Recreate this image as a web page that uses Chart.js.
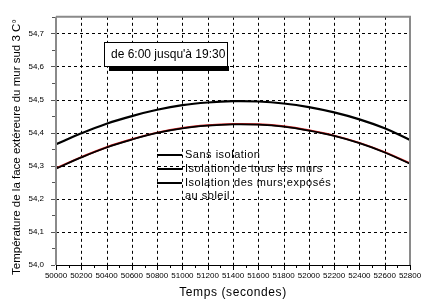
<!DOCTYPE html>
<html><head><meta charset="utf-8">
<script src="https://cdn.jsdelivr.net/npm/chart.js@4"></script>
<style>html,body{margin:0;padding:0;background:#fff}#wrap{width:428px;height:304px}</style>
</head><body><div id="wrap"><canvas id="c" width="428" height="304"></canvas></div>
<script>
const times = [50000,50200,50400,50600,50800,51000,51200,51400,51600,51800,52000,52200,52400,52600,52800];
const sansIsolation = [54.365,54.398,54.427,54.450,54.469,54.483,54.491,54.495,54.494,54.488,54.477,54.461,54.440,54.413,54.378];
const isolationTous = [54.291,54.325,54.355,54.379,54.399,54.413,54.421,54.425,54.424,54.418,54.406,54.390,54.368,54.340,54.306];
const isolationExposes = [54.292,54.326,54.356,54.380,54.400,54.414,54.422,54.426,54.425,54.419,54.407,54.391,54.369,54.341,54.307];
const yTicks = [54.0,54.1,54.2,54.3,54.4,54.5,54.6,54.7];
const legendLabels = ["Sans isolation","Isolation de tous les murs","Isolation des murs exposés","au soleil"];
const annotationText = "de 6:00 jusqu'à 19:30";
const xTitle = "Temps (secondes)";
const yTitle = "Température de la face extéreure du mur sud 3 C°";

const pts = (arr) => times.map((t,i)=>({x:t,y:arr[i]}));

const gridPlugin = {
  id:'gridPlugin',
  beforeDatasetsDraw(chart){
    const ctx = chart.ctx, ca = chart.chartArea, xs = chart.scales.x, ys = chart.scales.y;
    ctx.save();
    ctx.strokeStyle = '#000'; ctx.lineWidth = 1; ctx.setLineDash([3,3]);
    for (const v of yTicks) {
      if (v === 54.0) continue;
      const py = Math.round(ys.getPixelForValue(v)) + 0.5;
      ctx.beginPath(); ctx.moveTo(ca.left, py); ctx.lineTo(ca.right, py); ctx.stroke();
    }
    for (const t of times) {
      if (t === 50000 || t === 52800) continue;
      const px = Math.round(xs.getPixelForValue(t)) + 0.5;
      ctx.beginPath(); ctx.moveTo(px, ca.top); ctx.lineTo(px, ca.bottom); ctx.stroke();
    }
    ctx.restore();
  }
};

const extras = {
  id:'extras',
  afterDraw(chart){
    const ctx = chart.ctx, ca = chart.chartArea, xs = chart.scales.x, ys = chart.scales.y;
    ctx.save();
    ctx.strokeStyle = '#8a8a8a'; ctx.lineWidth = 2;
    ctx.beginPath(); ctx.moveTo(ca.left, ca.top); ctx.lineTo(ca.right, ca.top); ctx.lineTo(ca.right, ca.bottom); ctx.stroke();
    ctx.beginPath(); ctx.moveTo(ca.left, ca.top); ctx.lineTo(ca.left, ca.bottom); ctx.stroke();
    ctx.strokeStyle = '#000'; ctx.lineWidth = 1;
    ctx.beginPath(); ctx.moveTo(ca.left, ca.bottom+0.5); ctx.lineTo(ca.right, ca.bottom+0.5); ctx.stroke();
    for (let t = 50000; t <= 52800; t += 100) {
      const px = Math.round(xs.getPixelForValue(t)) + 0.5;
      const len = (t % 200 === 0) ? 5 : 3;
      ctx.beginPath(); ctx.moveTo(px, ca.bottom); ctx.lineTo(px, ca.bottom + len); ctx.stroke();
    }
    ctx.strokeStyle = '#555';
    for (let v = 0; v <= 15; v++) {
      const py = Math.round(ys.getPixelForValue(54 + v*0.05)) + 0.5;
      const len = (v % 2 === 0) ? 4 : 3;
      ctx.beginPath(); ctx.moveTo(ca.left - 1 - len, py); ctx.lineTo(ca.left - 1, py); ctx.stroke();
    }
    // annotation box
    ctx.fillStyle = '#000';
    ctx.fillRect(109, 66, 120, 5);
    ctx.fillStyle = '#fff';
    ctx.fillRect(104.5, 42.5, 123, 24);
    ctx.strokeStyle = '#000'; ctx.lineWidth = 1;
    ctx.strokeRect(104.5, 42.5, 123, 24);
    ctx.fillStyle = '#000';
    ctx.font = '12px "Liberation Sans", Arial, sans-serif';
    ctx.textBaseline = 'middle'; ctx.textAlign = 'left';
    ctx.fillText(annotationText, 111, 55);
    // legend
    ctx.font = '11px "Liberation Sans", Arial, sans-serif';
    try { ctx.letterSpacing = '0.5px'; } catch(e) {}
    const ly = [155, 169, 183];
    ctx.lineWidth = 2;
    for (let i = 0; i < 3; i++) {
      ctx.strokeStyle = '#000';
      ctx.beginPath(); ctx.moveTo(157, ly[i]); ctx.lineTo(182, ly[i]); ctx.stroke();
      ctx.fillText(legendLabels[i], 185, ly[i]);
    }
    ctx.fillText(legendLabels[3], 185, 196);
    // titles
    ctx.font = '12px "Liberation Sans", Arial, sans-serif';
    try { ctx.letterSpacing = '0.6px'; } catch(e) {}
    ctx.textAlign = 'center';
    ctx.fillText(xTitle, 233, 293);
    ctx.save();
    ctx.translate(17, 147);
    ctx.rotate(-Math.PI/2);
    try { ctx.letterSpacing = '0px'; } catch(e) {}
    ctx.font = '11.5px "Liberation Sans", Arial, sans-serif';
    ctx.fillText(yTitle, 0, 0);
    ctx.restore();
    ctx.restore();
  }
};

new Chart(document.getElementById('c'), {
  type:'line',
  data:{
    datasets:[
      {label:legendLabels[0], data:pts(sansIsolation), borderColor:'#000', borderWidth:2.2, pointRadius:0, tension:0.4, order:1},
      {label:legendLabels[2], data:pts(isolationExposes), borderColor:'#d02020', borderWidth:2, pointRadius:0, tension:0.4, order:3},
      {label:legendLabels[1], data:pts(isolationTous), borderColor:'#000', borderWidth:1.8, pointRadius:0, tension:0.4, order:2}
    ]
  },
  plugins:[gridPlugin, extras],
  options:{
    responsive:false, animation:false, devicePixelRatio:1,
    layout:{padding:{left:0, right:18, top:12, bottom:0}},
    plugins:{legend:{display:false}, tooltip:{enabled:false}},
    scales:{
      x:{
        type:'linear', min:50000, max:52800,
        afterBuildTicks(s){ s.ticks = times.map(v=>({value:v})); },
        afterFit(s){ s.height = 39; },
        ticks:{font:{family:'"Liberation Sans", Arial, sans-serif', size:8}, color:'#000', padding:6, maxRotation:0, autoSkip:false, callback:(v)=>String(v)},
        grid:{display:false, drawTicks:false},
        border:{display:false}
      },
      y:{
        type:'linear', min:54.0, max:54.75,
        afterBuildTicks(s){ s.ticks = yTicks.map(v=>({value:v})); },
        afterFit(s){ s.width = 56; },
        ticks:{font:{family:'"Liberation Sans", Arial, sans-serif', size:8}, color:'#000', padding:12, callback:(v)=>v.toFixed(1).replace('.',',')},
        grid:{display:false, drawTicks:false},
        border:{display:false}
      }
    }
  }
});
</script></body></html>
